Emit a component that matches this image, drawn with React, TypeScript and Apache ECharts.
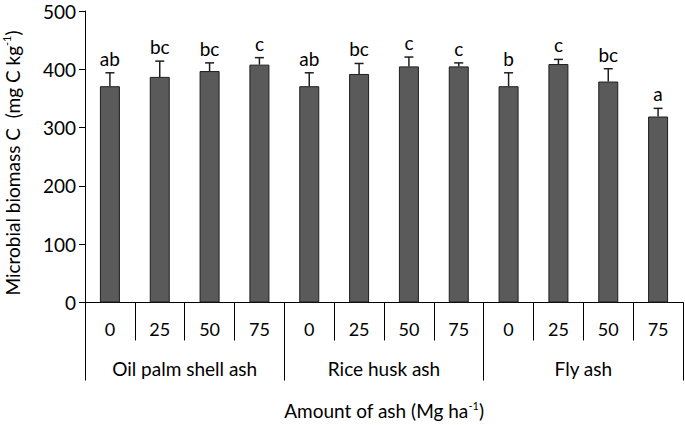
import React, { useEffect, useRef } from "react";
import * as echarts from "echarts";

const rates = ["0", "25", "50", "75", "0", "25", "50", "75", "0", "25", "50", "75"];
const ashTypes = ["Oil palm shell ash", "Rice husk ash", "Fly ash"];
const means = [371, 387, 397, 408, 371, 392, 405, 405, 371, 409, 379, 319];
const errors = [23, 27, 14, 12, 23, 18, 16, 6, 23, 8, 22, 14];
const letters = ["ab", "bc", "bc", "c", "ab", "bc", "c", "c", "b", "c", "bc", "a"];
const yTicks = { min: 0, max: 500, interval: 100 };

const FONT = "Lato";

export default function App() {
  const ref = useRef<HTMLDivElement>(null);
  useEffect(() => {
    if (!ref.current) return;
    const chart = echarts.init(ref.current, undefined, { renderer: "svg" });
    const errData = means.map((m, i) => [i, m, errors[i]]);
    chart.setOption({
      animation: false,
      textStyle: { fontFamily: FONT, color: "#000" },
      grid: { left: 85, right: 2, top: 8, height: 300 },
      graphic: [
        {
          type: "text",
          x: 12,
          y: 163,
          rotation: Math.PI / 2,
          style: {
            text: "{a|Microbial biomass C  (mg C kg}{s|-1}{a|)}",
            align: "center",
            verticalAlign: "middle",
            rich: {
              a: { fontSize: 19, fontFamily: FONT, fill: "#000", lineHeight: 22 },
              s: { fontSize: 11, fontFamily: FONT, fill: "#000", verticalAlign: "top", lineHeight: 12 },
            },
          },
        },
      ],
      xAxis: [
        {
          type: "category",
          data: rates,
          position: "bottom",
          axisLine: { show: true, lineStyle: { color: "#000", width: 1 } },
          axisTick: { show: true, interval: 0, length: 38, lineStyle: { color: "#000", width: 1 } },
          axisLabel: { interval: 0, margin: 17, fontSize: 18, color: "#000", fontFamily: FONT },
        },
        {
          type: "category",
          data: ashTypes,
          position: "bottom",
          axisLine: { show: false },
          axisTick: { show: true, interval: 0, length: 78, lineStyle: { color: "#000", width: 1 } },
          axisLabel: { interval: 0, margin: 56, fontSize: 19, color: "#000", fontFamily: FONT },
          name: "{a|Amount of ash (Mg ha}{s|-1}{a|)}",
          nameLocation: "middle",
          nameGap: 97,
          nameTextStyle: {
            rich: {
              a: { fontSize: 19, fontFamily: FONT, color: "#000", lineHeight: 22 },
              s: { fontSize: 11, fontFamily: FONT, color: "#000", verticalAlign: "top", lineHeight: 12 },
            },
          },
        },
      ],
      yAxis: {
        type: "value",
        min: yTicks.min,
        max: yTicks.max,
        interval: yTicks.interval,
        splitLine: { show: false },
        axisLine: { show: true, lineStyle: { color: "#000", width: 1 } },
        axisTick: { show: true, length: 6, lineStyle: { color: "#000", width: 1 } },
        axisLabel: {
          fontSize: 19,
          lineHeight: 19,
          padding: [3, 0, 0, 0],
          color: "#000",
          margin: 9,
          fontFamily: FONT,
        },
      },
      series: [
        {
          type: "bar",
          data: means,
          xAxisIndex: 0,
          barWidth: 20,
          itemStyle: { color: "#5a5a5a", borderColor: "#1e1e1e", borderWidth: 1 },
          z: 2,
        },
        {
          type: "custom",
          xAxisIndex: 0,
          data: errData,
          encode: { x: 0, y: 1 },
          z: 3,
          renderItem: (params: any, api: any) => {
            const idx = api.value(0);
            const m = api.value(1);
            const e = api.value(2);
            const p0 = api.coord([idx, m]);
            const p1 = api.coord([idx, m + e]);
            const x = p0[0];
            return {
              type: "group",
              children: [
                {
                  type: "line",
                  shape: { x1: x, y1: p0[1], x2: x, y2: p1[1] },
                  style: { stroke: "#1e1e1e", lineWidth: 1.5 },
                },
                {
                  type: "line",
                  shape: { x1: x - 4.5, y1: p1[1], x2: x + 4.5, y2: p1[1] },
                  style: { stroke: "#1e1e1e", lineWidth: 1.5 },
                },
                {
                  type: "text",
                  x: x,
                  y: p1[1] - 5,
                  style: {
                    text: letters[params.dataIndex],
                    textAlign: "center",
                    textVerticalAlign: "bottom",
                    fontSize: 19,
                    fontFamily: FONT,
                    fill: "#000",
                  },
                },
              ],
            };
          },
        },
      ],
    });
    return () => chart.dispose();
  }, []);
  return (
    <div
      ref={ref}
      style={{ position: "fixed", left: 0, top: 0, width: 685, height: 425, background: "#fff" }}
    />
  );
}
